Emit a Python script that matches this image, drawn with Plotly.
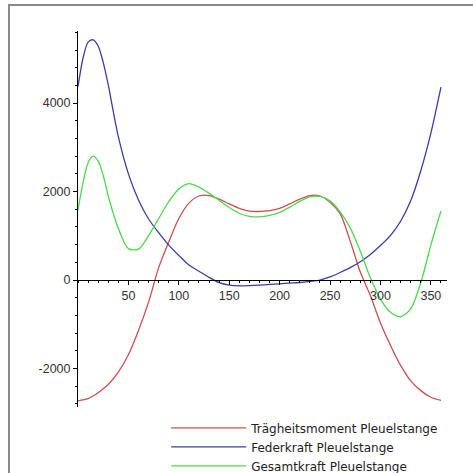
import plotly.graph_objects as go

angle = [0, 5, 10, 15, 20, 25, 30, 40, 50, 60, 70, 80, 90,
         100, 110, 120, 130, 140, 150, 160, 170, 180, 190,
         200, 210, 220, 230, 240, 250, 260, 270, 280, 290,
         300, 310, 320, 330, 340, 350, 360]

traegheit = [-2730, -2710, -2680, -2620, -2550, -2460, -2360, -2080, -1690, -1140, -500, 280, 860,
             1390, 1740, 1900, 1910, 1830, 1720, 1620, 1560, 1550, 1570,
             1620, 1720, 1830, 1910, 1900, 1760, 1500, 880, 180, -350,
             -970, -1480, -1930, -2280, -2500, -2650, -2720]

feder = [4370, 5020, 5380, 5430, 5290, 4920, 4410, 3240, 2400, 1810, 1380, 1070, 790,
         555, 340, 200, 60, -60, -115, -130, -125, -115, -100,
         -85, -70, -55, -30, 0, 70, 170, 280, 415, 580,
         780, 1010, 1330, 1790, 2470, 3320, 4360]

gesamt = [1580, 2200, 2650, 2800, 2690, 2370, 1900, 1165, 710, 700, 1005, 1390, 1770,
          2060, 2180, 2100, 1960, 1800, 1640, 1510, 1440, 1430, 1460,
          1530, 1650, 1780, 1880, 1890, 1790, 1540, 1180, 650, 50,
          -430, -730, -830, -650, -60, 790, 1560]

names = ["Trägheitsmoment Pleuelstange", "Federkraft Pleuelstange", "Gesamtkraft Pleuelstange"]
colors = ["#c8504f", "#3c3ca8", "#4cd84c"]

fig = go.Figure()
for name, ys, c in zip(names, [traegheit, feder, gesamt], colors):
    fig.add_trace(go.Scatter(x=angle, y=ys, mode="lines", name=name,
                             line=dict(color=c, width=1.3, shape="spline", smoothing=0.8)))

ymin, ymax = -2870, 5630
zero_pos = (0 - ymin) / (ymax - ymin)

fig.update_layout(
    width=473, height=473,
    margin=dict(l=78, r=26, t=31, b=66, autoexpand=False),
    paper_bgcolor="white", plot_bgcolor="white",
    font=dict(family="Liberation Sans, Arial", size=12, color="#222"),
    xaxis=dict(range=[0, 366], showgrid=False, zeroline=False, automargin=False,
               showline=True, linecolor="black", linewidth=1,
               anchor="free", position=zero_pos,
               tickmode="array", tickvals=[50, 100, 150, 200, 250, 300, 350],
               ticks="outside", ticklen=4, tickcolor="black",
               minor=dict(tickmode="linear", tick0=0, dtick=10, ticks="outside",
                          ticklen=2, tickcolor="black", showgrid=False),
               tickfont=dict(size=12.5, color="#333")),
    yaxis=dict(range=[ymin, ymax], showgrid=False, zeroline=False, automargin=False,
               showline=True, linecolor="black", linewidth=1,
               tickmode="array", tickvals=[-2000, 0, 2000, 4000],
               ticktext=["-2000", "0", "2000", "4000"],
               ticks="outside", ticklen=4, tickcolor="black",
               minor=dict(tickmode="linear", tick0=0, dtick=400, ticks="outside",
                          ticklen=2, tickcolor="black", showgrid=False),
               tickfont=dict(size=12.5, color="#333")),
    legend=dict(x=0.239, y=-0.017, xanchor="left", yanchor="top",
                orientation="v", itemwidth=75, tracegroupgap=0,
                font=dict(family="DejaVu Sans", size=12, color="#222"),
                bgcolor="rgba(0,0,0,0)"),
    shapes=[dict(type="rect", xref="paper", yref="paper",
                 x0=-0.187, y0=-0.3, x1=1.3, y1=1.069,
                 line=dict(color="#8a8a8a", width=2))],
)

fig.write_html("out.html", config={"displayModeBar": False},
               post_script="document.body.style.margin='0';document.body.style.overflow='hidden';")
